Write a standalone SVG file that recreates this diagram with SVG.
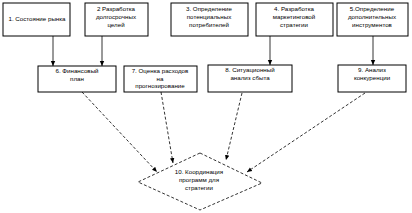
<svg xmlns="http://www.w3.org/2000/svg" width="412" height="213" viewBox="0 0 412 213">
<defs>
<marker id="ah" markerWidth="6" markerHeight="6" refX="5" refY="3" orient="auto" markerUnits="userSpaceOnUse">
<path d="M0,0.8 L5,3 L0,5.2 Z" fill="#000"/>
</marker>
<style>
.box{fill:#fff;stroke:#000;stroke-width:1}
.t{font-family:"Liberation Sans",Arial,sans-serif;font-size:6.2px;fill:#000;text-anchor:middle}
.s{stroke:#000;stroke-width:0.8;fill:none}
.d{stroke:#000;stroke-width:0.8;fill:none;stroke-dasharray:3,2}
</style>
</defs>
<rect width="412" height="213" fill="#fff"/>
<g id="connectors">
<line class="s" x1="53" y1="36" x2="53" y2="66" marker-end="url(#ah)"/>
<line class="s" x1="102" y1="36" x2="102" y2="66" marker-end="url(#ah)"/>
<line class="s" x1="270" y1="36" x2="270" y2="65" marker-end="url(#ah)"/>
<line class="s" x1="373" y1="36" x2="373" y2="65" marker-end="url(#ah)"/>
<line class="d" x1="82" y1="92" x2="157" y2="172" marker-end="url(#ah)"/>
<line class="d" x1="161" y1="92" x2="173" y2="163" marker-end="url(#ah)"/>
<line class="d" x1="242" y1="93" x2="226" y2="160" marker-end="url(#ah)"/>
<line class="d" x1="365" y1="93" x2="247" y2="172" marker-end="url(#ah)"/>
</g>
<g id="n1"><rect class="box" x="3" y="3" width="67" height="33"/><text class="t" x="37" y="21">1. Состояние рынка</text></g>
<g id="n2"><rect class="box" x="85" y="3" width="63" height="33"/><text class="t" x="116" y="11">2 Разработка</text><text class="t" x="116" y="19">долгосрочных</text><text class="t" x="116" y="27">целей</text></g>
<g id="n3"><rect class="box" x="171" y="3" width="77" height="33"/><text class="t" x="209" y="11">3. Определение</text><text class="t" x="209" y="19">потенциальных</text><text class="t" x="209" y="27">потребителей</text></g>
<g id="n4"><rect class="box" x="256" y="3" width="77" height="33"/><text class="t" x="294" y="11">4. Разработка</text><text class="t" x="294" y="19">маркетинговой</text><text class="t" x="294" y="27">стратегии</text></g>
<g id="n5"><rect class="box" x="337" y="3" width="71" height="33"/><text class="t" x="372" y="11">5.Определение</text><text class="t" x="372" y="19">дополнительных</text><text class="t" x="372" y="27">инструментов</text></g>
<g id="n6"><rect class="box" x="38" y="66" width="78" height="26"/><text class="t" x="77" y="73">6. Финансовый</text><text class="t" x="77" y="81">план</text></g>
<g id="n7"><rect class="box" x="124" y="66" width="73" height="26"/><text class="t" x="160" y="73">7. Оценка расходов</text><text class="t" x="160" y="80.5">на</text><text class="t" x="160" y="88">прогнозирование</text></g>
<g id="n8"><rect class="box" x="208" y="65" width="84" height="27"/><text class="t" x="250" y="72">8. Ситуационный</text><text class="t" x="250" y="80">анализ сбыта</text></g>
<g id="n9"><rect class="box" x="338" y="65" width="68" height="27"/><text class="t" x="372" y="72">9. Анализ</text><text class="t" x="372" y="80">конкуренции</text></g>
<g id="n10"><polygon class="d" points="200,153 262,183 200,210 138,182"/><text class="t" x="199" y="174">10. Координация</text><text class="t" x="199" y="182">программ для</text><text class="t" x="199" y="190">стратегии</text></g>
</svg>
